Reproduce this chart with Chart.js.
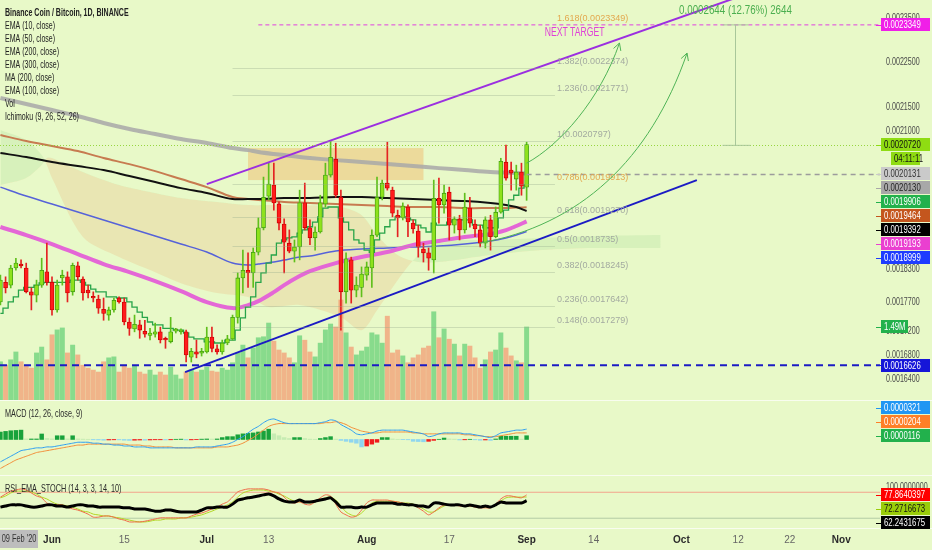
<!DOCTYPE html>
<html>
<head>
<meta charset="utf-8">
<title>Binance Coin / Bitcoin 1D</title>
<script src="https://cdn.jsdelivr.net/npm/chart.js@4.4.1/dist/chart.umd.min.js"></script>
<style>
  html, body { margin: 0; padding: 0; background: #e8f9c8; }
  #wrap { position: relative; width: 932px; height: 550px; overflow: hidden; background: #e8f9c8; }
  #wrap canvas { position: absolute; left: 0; }
</style>
</head>
<body>
<div id="wrap">
  <canvas id="priceChart" width="932" height="400" style="top:0"></canvas>
  <canvas id="macdChart" width="932" height="75" style="top:400px"></canvas>
  <canvas id="rsiChart" width="932" height="75" style="top:475px"></canvas>
</div>
<script>
// day 0 = 1 Jun 2020, one candle per day from 22 May to 1 Sep
const firstDay = -10;

const opens = [
  1771e-6,1806e-6,1801e-6,1832e-6,1839e-6,1832e-6,1789e-6,1783e-6,1801e-6,1825e-6,
  1806e-6,1757e-6,1814e-6,1816e-6,1789e-6,1836e-6,1812e-6,1792e-6,1781e-6,1776e-6,
  1758e-6,1748e-6,1757e-6,1778e-6,1771e-6,1736e-6,1724e-6,1731e-6,1720e-6,1713e-6,
  1715e-6,1719e-6,1708e-6,1702e-6,1720e-6,1719e-6,1719e-6,1676e-6,1685e-6,1683e-6,
  1685e-6,1710e-6,1690e-6,1685e-6,1700e-6,1707e-6,1744e-6,1814e-6,1828e-6,1823e-6,
  1861e-6,1907e-6,1968e-6,1990e-6,1953e-6,1914e-6,1878e-6,1863e-6,1871e-6,1955e-6,
  1907e-6,1888e-6,1899e-6,1953e-6,2010e-6,2042e-6,1966e-6,1789e-6,1847e-6,1792e-6,
  1797e-6,1819e-6,1832e-6,1893e-6,1966e-6,1994e-6,1980e-6,1931e-6,1926e-6,1947e-6,
  1916e-6,1901e-6,1867e-6,1860e-6,1847e-6,1964e-6,1951e-6,1976e-6,1912e-6,1924e-6,
  1903e-6,1945e-6,1914e-6,1903e-6,1878e-6,1922e-6,1890e-6,1937e-6,2036e-6,2020e-6,
  2002e-6,2016e-6,1986e-6
];
const highs = [
  1819e-6,1816e-6,1837e-6,1850e-6,1847e-6,1841e-6,1796e-6,1810e-6,1850e-6,1878e-6,
  1816e-6,1810e-6,1828e-6,1825e-6,1841e-6,1843e-6,1816e-6,1801e-6,1789e-6,1783e-6,
  1778e-6,1762e-6,1778e-6,1780e-6,1778e-6,1743e-6,1748e-6,1739e-6,1739e-6,1725e-6,
  1734e-6,1727e-6,1710e-6,1744e-6,1725e-6,1724e-6,1722e-6,1691e-6,1705e-6,1691e-6,
  1727e-6,1727e-6,1697e-6,1705e-6,1713e-6,1748e-6,1823e-6,1865e-6,1860e-6,1869e-6,
  1926e-6,2006e-6,2034e-6,2034e-6,1957e-6,1924e-6,1903e-6,1884e-6,1980e-6,1994e-6,
  1922e-6,1909e-6,1970e-6,2034e-6,2080e-6,2075e-6,1980e-6,1860e-6,1852e-6,1816e-6,
  1834e-6,1843e-6,1903e-6,2006e-6,2000e-6,2077e-6,1986e-6,1941e-6,1955e-6,1951e-6,
  1922e-6,1912e-6,1878e-6,1869e-6,2000e-6,2004e-6,1990e-6,1986e-6,1928e-6,1931e-6,
  1974e-6,1966e-6,1922e-6,1912e-6,1928e-6,1931e-6,1947e-6,2044e-6,2071e-6,2036e-6,
  2030e-6,2034e-6,2077e-6
];
const lows = [
  1766e-6,1787e-6,1796e-6,1828e-6,1832e-6,1787e-6,1757e-6,1771e-6,1797e-6,1801e-6,
  1748e-6,1753e-6,1801e-6,1771e-6,1783e-6,1810e-6,1774e-6,1778e-6,1771e-6,1751e-6,
  1739e-6,1739e-6,1753e-6,1769e-6,1731e-6,1713e-6,1719e-6,1708e-6,1710e-6,1705e-6,
  1710e-6,1700e-6,1691e-6,1700e-6,1717e-6,1715e-6,1668e-6,1668e-6,1675e-6,1678e-6,
  1683e-6,1685e-6,1681e-6,1681e-6,1697e-6,1705e-6,1734e-6,1787e-6,1797e-6,1797e-6,
  1856e-6,1903e-6,1961e-6,1941e-6,1903e-6,1823e-6,1860e-6,1843e-6,1847e-6,1903e-6,
  1875e-6,1865e-6,1897e-6,1947e-6,2006e-6,1966e-6,1722e-6,1769e-6,1769e-6,1780e-6,
  1780e-6,1810e-6,1797e-6,1890e-6,1961e-6,1980e-6,1928e-6,1890e-6,1922e-6,1890e-6,
  1897e-6,1852e-6,1843e-6,1828e-6,1823e-6,1916e-6,1935e-6,1884e-6,1897e-6,1884e-6,
  1897e-6,1908e-6,1890e-6,1871e-6,1869e-6,1865e-6,1888e-6,1935e-6,2000e-6,1980e-6,
  1980e-6,1970e-6,1960e-6
];
const closes = [
  1810e-6,1796e-6,1832e-6,1841e-6,1836e-6,1789e-6,1783e-6,1801e-6,1828e-6,1806e-6,
  1757e-6,1801e-6,1819e-6,1787e-6,1837e-6,1816e-6,1787e-6,1787e-6,1778e-6,1760e-6,
  1751e-6,1757e-6,1774e-6,1771e-6,1736e-6,1725e-6,1732e-6,1722e-6,1715e-6,1717e-6,
  1719e-6,1705e-6,1705e-6,1719e-6,1724e-6,1722e-6,1680e-6,1686e-6,1681e-6,1686e-6,
  1710e-6,1691e-6,1685e-6,1700e-6,1707e-6,1744e-6,1814e-6,1828e-6,1823e-6,1861e-6,
  1907e-6,1966e-6,1992e-6,1955e-6,1916e-6,1880e-6,1863e-6,1871e-6,1955e-6,1907e-6,
  1888e-6,1899e-6,1955e-6,2010e-6,2046e-6,1970e-6,1789e-6,1849e-6,1792e-6,1801e-6,
  1821e-6,1834e-6,1893e-6,1966e-6,1994e-6,1984e-6,1935e-6,1926e-6,1949e-6,1918e-6,
  1905e-6,1871e-6,1860e-6,1850e-6,1964e-6,1951e-6,1974e-6,1912e-6,1924e-6,1903e-6,
  1947e-6,1916e-6,1905e-6,1878e-6,1922e-6,1890e-6,1937e-6,2038e-6,2004e-6,2014e-6,
  2016e-6,1988e-6,2072e-6
];
// volume, millions
const volumes = [
  0.78,0.71,0.82,0.98,0.78,0.71,0.65,0.96,1.08,0.82,
  1.33,1.43,1.47,0.96,1.12,0.92,0.71,0.65,0.61,0.57,
  0.78,0.86,0.88,0.57,0.71,0.65,0.69,0.57,0.53,0.61,
  0.51,0.57,0.51,0.67,0.51,0.43,0.57,0.61,0.57,0.61,
  0.67,0.59,0.57,0.65,0.61,0.76,0.96,1.12,0.86,1.06,
  1.27,1.29,1.57,1.20,1.02,0.96,0.86,0.76,1.31,1.22,
  0.98,0.88,1.16,1.43,1.55,1.49,2.04,1.37,1.08,0.92,
  1.00,1.08,1.37,1.33,1.16,1.71,0.96,1.02,0.90,0.76,
  0.86,0.92,1.06,1.10,1.80,1.27,1.45,1.24,1.14,0.90,
  1.14,1.10,0.86,0.65,0.82,0.98,1.02,1.37,1.06,0.90,
  0.80,0.76,1.49
];
// ichimoku conversion line (step line)
const tenkan = [
  1751e-6,1760e-6,1771e-6,1780e-6,1792e-6,1797e-6,1797e-6,1801e-6,1805e-6,1806e-6,
  1806e-6,1806e-6,1806e-6,1806e-6,1810e-6,1810e-6,1806e-6,1801e-6,1794e-6,1789e-6,
  1789e-6,1780e-6,1780e-6,1778e-6,1778e-6,1771e-6,1762e-6,1753e-6,1744e-6,1736e-6,
  1731e-6,1731e-6,1725e-6,1725e-6,1722e-6,1722e-6,1717e-6,1710e-6,1707e-6,1707e-6,
  1702e-6,1702e-6,1700e-6,1700e-6,1705e-6,1705e-6,1722e-6,1743e-6,1762e-6,1780e-6,
  1806e-6,1823e-6,1841e-6,1856e-6,1878e-6,1884e-6,1888e-6,1890e-6,1897e-6,1903e-6,
  1909e-6,1918e-6,1928e-6,1945e-6,1947e-6,1947e-6,1926e-6,1918e-6,1903e-6,1884e-6,
  1878e-6,1865e-6,1861e-6,1884e-6,1897e-6,1909e-6,1922e-6,1928e-6,1928e-6,1926e-6,
  1922e-6,1912e-6,1907e-6,1899e-6,1916e-6,1912e-6,1912e-6,1918e-6,1922e-6,1922e-6,
  1922e-6,1922e-6,1912e-6,1912e-6,1907e-6,1907e-6,1907e-6,1926e-6,1941e-6,1961e-6,
  1970e-6,1984e-6,1990.6e-6
];

// moving averages, read every few days
const curveDays = [-10,-5,0,5,10,15,20,25,30,35,38,40,43,45,48,50,55,60,65,70,75,80,85,88,90,92];
const ma200 = [2170.6e-6,2157.6e-6,2144.7e-6,2132.0e-6,2117.1e-6,2104.5e-6,2094.0e-6,2083.6e-6,2075.3e-6,2064.9e-6,2060.7e-6,2056.7e-6,2052.6e-6,2050.5e-6,2046.4e-6,2044.4e-6,2040.2e-6,2036.2e-6,2032.1e-6,2028.1e-6,2024.0e-6,2020.0e-6,2016.0e-6,2015.0e-6,2014.0e-6,2013.1e-6];
const ema300 = [2091.9e-6,2079.4e-6,2069.1e-6,2058.8e-6,2044.4e-6,2032.1e-6,2018.0e-6,2002.0e-6,1986.0e-6,1966.4e-6,1962.5e-6,1960.5e-6,1958.6e-6,1956.6e-6,1955.6e-6,1954.7e-6,1952.7e-6,1950.8e-6,1948.8e-6,1946.9e-6,1946.9e-6,1944.9e-6,1944.9e-6,1944.9e-6,1945.9e-6,1946.4e-6];
const ema200 = [2054.7e-6,2046.4e-6,2036.2e-6,2028.1e-6,2020.0e-6,2008.0e-6,1996.0e-6,1984.0e-6,1974.3e-6,1962.5e-6,1962.5e-6,1962.5e-6,1963.5e-6,1964.5e-6,1964.5e-6,1964.5e-6,1966.4e-6,1966.4e-6,1964.5e-6,1962.5e-6,1960.5e-6,1958.6e-6,1954.7e-6,1950.8e-6,1946.9e-6,1939.2e-6];
const ema100 = [1986.0e-6,1968.4e-6,1952.7e-6,1937.2e-6,1921.8e-6,1906.6e-6,1891.4e-6,1876.4e-6,1861.4e-6,1841.1e-6,1837.4e-6,1839.3e-6,1842.9e-6,1846.6e-6,1852.2e-6,1854.0e-6,1863.3e-6,1867.0e-6,1868.9e-6,1870.8e-6,1872.6e-6,1876.4e-6,1882.0e-6,1887.6e-6,1893.3e-6,1899.9e-6];
const ema50 = [1908.5e-6,1893.3e-6,1876.4e-6,1857.7e-6,1839.3e-6,1824.6e-6,1808.2e-6,1790.3e-6,1770.8e-6,1760.2e-6,1765.5e-6,1772.5e-6,1788.5e-6,1801.0e-6,1817.3e-6,1826.4e-6,1841.1e-6,1852.2e-6,1861.4e-6,1874.5e-6,1882.0e-6,1889.5e-6,1895.1e-6,1902.7e-6,1910.4e-6,1919.3e-6];

// ichimoku cloud edges
const cloudDays = [-10,-5,-2,-1,0,6,13,19,25,32,38,42,48,56,60,63,67,71,75,85,95,105,118];
const spanA = [2102.4e-6,2081.4e-6,2050.5e-6,2030.1e-6,2004.0e-6,1889.5e-6,1852.2e-6,1828.2e-6,1804.6e-6,1786.7e-6,1779.6e-6,1762.0e-6,1765.5e-6,1744.4e-6,1721.9e-6,1756.6e-6,1810.0e-6,1855.9e-6,1880.1e-6,1883.9e-6,1887.6e-6,1891.4e-6,1893.3e-6];
const spanB = [1990.0e-6,2004.0e-6,2030.1e-6,2044.4e-6,2044.4e-6,2016.0e-6,1990.0e-6,1976.3e-6,1964.5e-6,1956.6e-6,1950.8e-6,1950.8e-6,1950.8e-6,1946.9e-6,1931.4e-6,1893.3e-6,1855.9e-6,1842.9e-6,1842.9e-6,1855.9e-6,1865.1e-6,1868.9e-6,1868.9e-6];

// MACD (12, 26, close, 9)
const macdLine = [
  -69.6e-6,-60.9e-6,-52.2e-6,-43.5e-6,-34.8e-6,-31.9e-6,-29.0e-6,-26.1e-6,-26.1e-6,-23.2e-6,
  -23.2e-6,-20.3e-6,-17.4e-6,-14.5e-6,-11.6e-6,-8.7e-6,-8.7e-6,-8.7e-6,-11.6e-6,-11.6e-6,
  -14.5e-6,-14.5e-6,-17.4e-6,-17.4e-6,-20.3e-6,-20.3e-6,-23.2e-6,-23.2e-6,-23.2e-6,-26.1e-6,
  -26.1e-6,-26.1e-6,-26.1e-6,-26.1e-6,-26.1e-6,-26.1e-6,-26.1e-6,-26.1e-6,-23.2e-6,-23.2e-6,
  -23.2e-6,-23.2e-6,-20.3e-6,-17.4e-6,-14.5e-6,-8.7e-6,0,8.7e-6,20.3e-6,31.9e-6,
  40.6e-6,52.2e-6,60.9e-6,63.8e-6,58.0e-6,52.2e-6,49.3e-6,49.3e-6,49.3e-6,49.3e-6,
  49.3e-6,49.3e-6,52.2e-6,55.1e-6,60.9e-6,58.0e-6,46.4e-6,37.7e-6,29.0e-6,17.4e-6,
  14.5e-6,17.4e-6,20.3e-6,26.1e-6,29.0e-6,29.0e-6,29.0e-6,29.0e-6,29.0e-6,26.1e-6,
  23.2e-6,20.3e-6,17.4e-6,8.7e-6,11.6e-6,17.4e-6,20.3e-6,20.3e-6,20.3e-6,20.3e-6,
  17.4e-6,17.4e-6,14.5e-6,11.6e-6,8.7e-6,5.8e-6,11.6e-6,20.3e-6,23.2e-6,26.1e-6,
  29.0e-6,29.0e-6,32.1e-6
];
const signalLine = [
  -90.0e-6,-81.2e-6,-72.5e-6,-63.8e-6,-58.0e-6,-52.2e-6,-46.4e-6,-40.6e-6,-37.7e-6,-34.8e-6,
  -31.9e-6,-29.0e-6,-26.1e-6,-23.2e-6,-20.3e-6,-17.4e-6,-17.4e-6,-14.5e-6,-14.5e-6,-14.5e-6,
  -14.5e-6,-14.5e-6,-14.5e-6,-14.5e-6,-14.5e-6,-17.4e-6,-17.4e-6,-17.4e-6,-20.3e-6,-20.3e-6,
  -23.2e-6,-23.2e-6,-23.2e-6,-23.2e-6,-26.1e-6,-26.1e-6,-26.1e-6,-26.1e-6,-26.1e-6,-26.1e-6,
  -26.1e-6,-26.1e-6,-23.2e-6,-23.2e-6,-23.2e-6,-20.3e-6,-17.4e-6,-11.6e-6,-2.9e-6,5.8e-6,
  17.4e-6,29.0e-6,40.6e-6,46.4e-6,49.3e-6,49.3e-6,49.3e-6,49.3e-6,49.3e-6,49.3e-6,
  49.3e-6,49.3e-6,49.3e-6,52.2e-6,52.2e-6,55.1e-6,52.2e-6,46.4e-6,37.7e-6,31.9e-6,
  26.1e-6,23.2e-6,20.3e-6,20.3e-6,23.2e-6,23.2e-6,23.2e-6,23.2e-6,23.2e-6,23.2e-6,
  20.3e-6,20.3e-6,17.4e-6,17.4e-6,17.4e-6,17.4e-6,17.4e-6,17.4e-6,17.4e-6,17.4e-6,
  14.5e-6,14.5e-6,11.6e-6,11.6e-6,8.7e-6,8.7e-6,8.7e-6,11.6e-6,14.5e-6,17.4e-6,
  20.3e-6,20.3e-6,20.4e-6
];
const macdHist = [
  23e-6,25e-6,27e-6,28e-6,29e-6,1.5e-6,1.5e-6,1.5e-6,17e-6,3e-6,
  1.5e-6,11.5e-6,11.5e-6,1.5e-6,11.5e-6,1.5e-6,1e-6,0.6e-6,-1e-6,-1.5e-6,
  -2.3e-6,-1.5e-6,-1e-6,-1.2e-6,-2.3e-6,-3e-6,-2.3e-6,-1.7e-6,-2.3e-6,-1.5e-6,
  -1e-6,-1e-6,-1.5e-6,-1e-6,0.6e-6,1e-6,-1.5e-6,-1.2e-6,-0.6e-6,1e-6,
  1.5e-6,1.2e-6,1.5e-6,5.8e-6,8.7e-6,8.7e-6,14.5e-6,17.4e-6,18.9e-6,20.3e-6,
  23.2e-6,26.1e-6,31.9e-6,17.4e-6,11.6e-6,5.8e-6,2.9e-6,5.8e-6,5.8e-6,2.9e-6,
  1e-6,0.6e-6,2.9e-6,5.8e-6,8.7e-6,1e-6,-2.9e-6,-5.8e-6,-8.7e-6,-11.6e-6,
  -23.2e-6,-20.3e-6,-14.5e-6,-8.7e-6,5.8e-6,5.8e-6,1.5e-6,0.6e-6,-0.6e-6,-1e-6,
  -5.8e-6,-6.5e-6,-7.2e-6,-5.8e-6,-2.9e-6,0.6e-6,4.4e-6,1.5e-6,1e-6,-1.5e-6,
  -1e-6,0.6e-6,-1e-6,-2.3e-6,-1.5e-6,-2.9e-6,1.5e-6,10e-6,10e-6,10e-6,
  10e-6,1e-6,11.6e-6
];

// RSI_EMA_STOCH (14, 3, 3, 14, 10)
const rsiMain = [
  45,48,51,51,51,48,45,45,48,51, 51,48,48,45,48,51,51,48,48,45,
  45,45,45,45,43,43,40,40,40,37, 34,34,37,37,34,32,32,32,32,37,
  43,43,45,45,45,53,64,67,70,72, 75,78,80,75,67,61,59,59,64,59,
  59,61,64,67,70,59,45,45,45,43, 45,45,51,56,56,56,56,53,53,51,
  51,48,48,45,56,56,53,51,51,51, 48,51,48,45,48,45,51,59,56,56,
  56,56,62.2431675
];
const rsiFast = [
  72,80,88,91,94,91,83,75,70,56, 51,51,51,45,40,37,32,26,18,18,
  21,21,18,13,10,5,5,5,7,10, 13,16,16,16,16,16,16,21,26,29,
  34,40,45,53,59,72,86,91,94,94, 94,94,91,86,83,72,59,56,59,53,
  51,59,70,78,75,53,32,24,18,21, 37,56,64,64,64,64,61,59,56,53,
  51,43,34,24,32,43,51,51,51,48, 48,48,45,43,43,43,53,67,75,75,
  72,70,77.8640397
];
const rsiSlow = [
  70,75,83,88,88,88,86,80,72,67, 59,53,51,48,45,40,34,32,26,24,
  21,21,18,16,13,10,7,5,5,7, 10,10,13,13,13,16,16,18,21,24,
  29,34,40,45,51,59,72,83,88,91, 91,91,88,86,80,75,67,61,59,59,
  56,59,64,70,72,64,48,32,24,21, 29,43,56,61,61,61,61,59,56,56,
  53,48,40,32,32,40,48,51,51,51, 48,48,48,45,45,45,51,61,70,72,
  72,72,72.2716673
];
const rsiBands = [85, 15];

// axes
const priceTicks = [1640e-6, 1680e-6, 1720e-6, 1770e-6, 1830e-6, 2100e-6, 2150e-6, 2250e-6, 2350e-6];
const rsiTicks = [100];
const tickDays = [0, 14, 30, 42, 61, 77, 92, 105, 122, 133, 143, 153];
const tickLabels = ['Jun', '15', 'Jul', '13', 'Aug', '17', 'Sep', '14', 'Oct', '12', '22', 'Nov'];
const monthNames = ['Jun', 'Jul', 'Aug', 'Sep', 'Oct', 'Nov'];

// drawings
const fibLevels = [1.618, 1.382, 1.236, 1, 0.786, 0.618, 0.5, 0.382, 0.236, 0.148];
const fibPrices = [2334.9e-6, 2237.4e-6, 2177.1e-6, 2079.7e-6, 1991.3e-6, 1927.0e-6, 1873.5e-6, 1824.5e-6, 1764.2e-6, 1727.9e-6];
const fibDays = [35, 97.5];
const zoneDays = [38, 72];
const zonePrices = [2000e-6, 2064.9e-6];
const channelDays = [30, 135];
const channelPrices = [1992e-6, 2409.5e-6];
const supportDays = [25.8, 125];
const supportPrices = [1651.3e-6, 2000e-6];
const floorPrice = 1662.6e-6;
const targetPrice = 2334.9e-6;
const lastPrice = 2072e-6;
const measureDay = 132.4;
const measurePrices = [2070.5e-6, 2334.9e-6];
const measureText = '0.0002644 (12.76%) 2644';
const arcs = [
  { days: [92, 98.4, 106.2, 110], prices: [2034e-6, 2071e-6, 2166e-6, 2293e-6] },
  { days: [82.9, 102.3, 115.9, 123.1], prices: [1878e-6, 1912e-6, 2040e-6, 2270e-6] }
];
const legendLines = ['Binance Coin / Bitcoin, 1D, BINANCE', 'EMA (10, close)', 'EMA (50, close)',
  'EMA (200, close)', 'EMA (300, close)', 'MA (200, close)', 'EMA (100, close)', 'Vol',
  'Ichimoku (9, 26, 52, 26)'];

const X_MIN = -10.08, X_MAX = 160.5;
const FAMILY = '"Liberation Sans",Arial,sans-serif';
const font = (size, weight) => (weight ? weight + ' ' : '') + size + 'px ' + FAMILY;

const days = closes.map((_, i) => firstDay + i);
const xy = (xs, ys) => xs.map((x, i) => ({ x, y: ys[i] }));
const rising = closes.map((c, i) => c >= opens[i]);

function curve(xs, ys, color, width, order, extra) {
  return Object.assign({
    type: 'line', data: xy(xs, ys), borderColor: color, borderWidth: width,
    pointRadius: 0, tension: 0.35, fill: false, order
  }, extra || {});
}

function xScale(show) {
  return {
    type: 'linear', min: X_MIN, max: X_MAX, offset: false, display: show,
    grid: { display: false, drawTicks: false }, border: { display: false },
    afterBuildTicks: s => { s.ticks = tickDays.map(v => ({ value: v })); },
    afterFit: s => {
      if (!s.options.display) return;
      s.height = 22; s.paddingLeft = 0; s.paddingRight = 0;
    },
    ticks: {
      autoSkip: false, maxRotation: 0, minRotation: 0, padding: 6,
      callback: v => tickLabels[tickDays.indexOf(v)],
      color: c => monthNames.includes(c.tick && c.tick.label) ? '#2b2b2b' : '#666',
      font: c => ({ family: FAMILY, size: 10, weight: monthNames.includes(c.tick && c.tick.label) ? 'bold' : 'normal' })
    }
  };
}

// the price scales keep their ticks; labels are written condensed by axisText()
function rightAxis(extra) {
  return Object.assign({
    position: 'right', grid: { display: false }, border: { display: false },
    afterFit: s => { s.width = 52; s.paddingTop = 0; s.paddingBottom = 0; },
    ticks: { display: false }
  }, extra);
}

function baseOptions(scales) {
  return {
    responsive: false, animation: false, events: [],
    layout: { padding: 0 },
    plugins: { legend: { display: false }, tooltip: { enabled: false } },
    scales
  };
}

function drawText(ctx, s, x, y, f, color, align, baseline, sx) {
  ctx.save();
  ctx.translate(x, y);
  ctx.scale(sx || 1, 1);
  ctx.font = f; ctx.fillStyle = color;
  ctx.textAlign = align || 'left'; ctx.textBaseline = baseline || 'middle';
  ctx.fillText(s, 0, 0);
  ctx.restore();
}

function hLine(ctx, x0, x1, y, color, width, dash) {
  ctx.beginPath();
  ctx.setLineDash(dash || []);
  ctx.strokeStyle = color; ctx.lineWidth = width;
  ctx.moveTo(x0, y); ctx.lineTo(x1, y);
  ctx.stroke();
  ctx.setLineDash([]);
}

function axisText(chart, id) {
  const sc = chart.scales[id];
  sc.ticks.forEach(t => drawText(chart.ctx, t.value.toFixed(7), chart.chartArea.right + 6,
    sc.getPixelForValue(t.value), font(10.5), '#4a4a4a', 'left', 'middle', 0.68));
}

// coloured value tags on the price scale
function drawTags(chart, groups) {
  const ctx = chart.ctx, x0 = chart.chartArea.right;
  groups.forEach(g => {
    const sc = chart.scales[g.scale];
    const tags = g.tags.map(t => Object.assign({}, t, { y: sc.getPixelForValue(t.value) + (t.shift || 0) }));
    tags.sort((a, b) => g.up ? b.y - a.y : a.y - b.y);
    for (let i = 1; i < tags.length; i++) {
      if (g.up) tags[i].y = Math.min(tags[i].y, tags[i - 1].y - 14);
      else tags[i].y = Math.max(tags[i].y, tags[i - 1].y + 14);
    }
    tags.forEach(t => {
      const x = x0 + 1 + (t.inset || 0), w = t.width || 49, top = Math.round(t.y - 6.5);
      ctx.fillStyle = t.bg;
      ctx.fillRect(x, top, w, 13);
      if (!t.inset) ctx.fillRect(x0 - 4, Math.round(t.y), 5, 1);
      drawText(ctx, t.text, x + 3, t.y + 0.5, font(10.5), t.fg, 'left', 'middle', 0.74);
    });
  });
}
const tag = (value, bg, fg, extra) => Object.assign({ value, text: value.toFixed(7), bg, fg }, extra || {});

const priceDecor = {
  id: 'priceDecor',
  beforeDatasetsDraw(chart) {
    const { ctx, scales: { x, y } } = chart;
    const x0 = x.getPixelForValue(zoneDays[0]), x1 = x.getPixelForValue(zoneDays[1]);
    const y0 = y.getPixelForValue(zonePrices[1]), y1 = y.getPixelForValue(zonePrices[0]);
    ctx.save();
    ctx.fillStyle = 'rgba(240,188,110,0.5)';
    ctx.fillRect(x0, y0, x1 - x0, y1 - y0);
    ctx.restore();
  },
  afterDatasetsDraw(chart) {
    const { ctx, chartArea: a, scales: { x, y } } = chart;
    ctx.save();
    ctx.beginPath();
    ctx.rect(a.left, a.top, a.right - a.left, a.bottom - a.top);
    ctx.clip();

    // last price and MA price lines
    hLine(ctx, a.left, a.right, Math.round(y.getPixelForValue(lastPrice)) + 0.5, 'rgba(130,205,30,0.8)', 1, [1, 2]);
    hLine(ctx, x.getPixelForValue(92), a.right, Math.round(y.getPixelForValue(ma200[ma200.length - 1])) + 0.5, '#9c9c9c', 1.5, [5, 4]);

    // fibonacci levels
    const fx0 = x.getPixelForValue(fibDays[0]), fx1 = x.getPixelForValue(fibDays[1]);
    fibLevels.forEach((lv, i) => {
      const py = Math.round(y.getPixelForValue(fibPrices[i])) + 0.5;
      if (lv !== 1.618) hLine(ctx, fx0, fx1, py, 'rgba(150,170,140,0.35)', 1);
      const warm = lv === 1.618 || lv === 0.786;
      drawText(ctx, lv + '(' + fibPrices[i].toFixed(7) + ')', fx1 + 2, py - 2, font(9.5),
        warm ? '#e3a84e' : '#a3aaa0', 'left', 'bottom', 0.95);
    });
    drawText(ctx, 'NEXT TARGET', x.getPixelForValue(95.5), y.getPixelForValue(2316e-6), font(12), '#e040d8', 'left', 'middle', 0.72);

    // projection arrows
    ctx.strokeStyle = '#4fb356'; ctx.lineWidth = 1;
    arcs.forEach(arc => {
      const p = arc.days.map((d, i) => [x.getPixelForValue(d), y.getPixelForValue(arc.prices[i])]);
      ctx.beginPath();
      ctx.moveTo(p[0][0], p[0][1]);
      ctx.bezierCurveTo(p[1][0], p[1][1], p[2][0], p[2][1], p[3][0], p[3][1]);
      ctx.stroke();
      const ang = Math.atan2(p[3][1] - p[2][1], p[3][0] - p[2][0]);
      ctx.beginPath();
      [-0.5, 0.5].forEach(da => {
        ctx.moveTo(p[3][0], p[3][1]);
        ctx.lineTo(p[3][0] - 8 * Math.cos(ang + da), p[3][1] - 8 * Math.sin(ang + da));
      });
      ctx.stroke();
    });

    // price range measure
    const mx = Math.round(x.getPixelForValue(measureDay)) + 0.5;
    const mTop = y.getPixelForValue(measurePrices[1]), mBot = y.getPixelForValue(measurePrices[0]);
    ctx.strokeStyle = '#a9c79a'; ctx.lineWidth = 1;
    ctx.beginPath();
    ctx.moveTo(mx, mTop); ctx.lineTo(mx, mBot);
    ctx.moveTo(mx - 13, mTop); ctx.lineTo(mx + 13, mTop);
    ctx.moveTo(mx - 13, mBot); ctx.lineTo(mx + 15, mBot);
    ctx.stroke();
    drawText(ctx, measureText, mx, mTop - 14, font(13), '#4caf50', 'center', 'middle', 0.75);
    ctx.restore();
  },
  afterDraw(chart) {
    const ctx = chart.ctx;
    legendLines.forEach((s, i) => drawText(ctx, s, 5, 12.7 + 13 * i, font(11, i === 0 ? 'bold' : ''), '#222', 'left', 'middle', 0.64));
    axisText(chart, 'y');
    drawTags(chart, [
      { scale: 'y', up: false, tags: [
        tag(targetPrice, '#f01fe8', '#fff'),
        tag(lastPrice, '#8fdc12', '#111'),
        { value: lastPrice, shift: 13.5, text: '04:11:11', bg: '#8fdc12', fg: '#111', inset: 10, width: 29 },
        tag(ma200[ma200.length - 1], '#cacaca', '#333'),
        tag(2013.0e-6, '#a8a8a8', '#222'),
        tag(tenkan[tenkan.length - 1], '#22b14c', '#fff'),
        tag(ema300[ema300.length - 1], '#c4561e', '#fff'),
        tag(ema200[ema200.length - 1], '#000', '#fff'),
        tag(ema50[ema50.length - 1], '#ea3fd0', '#fff'),
        tag(ema100[ema100.length - 1], '#1e3cff', '#fff'),
        tag(floorPrice, '#1616d8', '#fff')
      ] },
      { scale: 'yVol', up: false, tags: [
        { value: volumes[volumes.length - 1], text: volumes[volumes.length - 1].toFixed(2) + 'M', bg: '#22b14c', fg: '#fff', width: 27 }
      ] }
    ]);
  }
};

new Chart(document.getElementById('priceChart'), {
  type: 'bar',
  data: {
    datasets: [
      curve(cloudDays, spanA, 'transparent', 0, 40, { tension: 0.3,
        fill: { target: '+1', above: 'rgba(110,200,110,0.14)', below: 'rgba(236,178,120,0.26)' } }),
      curve(cloudDays, spanB, 'transparent', 0, 41, { tension: 0.3 }),
      { type: 'bar', yAxisID: 'yVol', data: xy(days, volumes), grouped: false, barThickness: 4.3, order: 30,
        backgroundColor: rising.map(u => u ? 'rgba(40,190,80,0.5)' : 'rgba(250,95,60,0.45)') },
      curve(curveDays, ma200, 'rgba(168,168,168,0.85)', 4, 12),
      curve(curveDays, ema300, '#c77b50', 2, 11),
      curve(curveDays, ema200, '#111', 2, 10),
      curve(curveDays, ema100, '#5662d8', 1.5, 9),
      curve(curveDays, ema50, '#e467d6', 4, 8),
      curve(days, tenkan, '#27a449', 1.3, 7, { stepped: 'middle', tension: 0 }),
      { type: 'bar', data: days.map((d, i) => ({ x: d, y: [lows[i], highs[i]] })), grouped: false,
        barThickness: 1, order: 3, backgroundColor: rising.map(u => u ? '#5fbf1c' : '#e42222') },
      { type: 'bar', data: days.map((d, i) => ({ x: d, y: [opens[i], closes[i]] })), grouped: false,
        barThickness: 4, minBarLength: 1, order: 2, borderSkipped: false, borderWidth: 0.8,
        backgroundColor: rising.map(u => u ? '#8ee21c' : '#ff1c1c'),
        borderColor: rising.map(u => u ? '#3d9b12' : '#c80000') },
      curve(channelDays, channelPrices, '#9b2fe0', 2, 1, { tension: 0 }),
      curve(supportDays, supportPrices, '#1b1bc4', 2, 1, { tension: 0 }),
      curve([X_MIN, X_MAX], [floorPrice, floorPrice], '#1b1bc4', 2, 1, { tension: 0, borderDash: [7, 5] }),
      curve([40, X_MAX], [targetPrice, targetPrice], '#e040e0', 1, 1, { tension: 0, borderDash: [4, 3] })
    ]
  },
  options: baseOptions({
    x: xScale(false),
    y: rightAxis({
      type: 'logarithmic', min: 1606e-6, max: 2393.6e-6,
      afterBuildTicks: s => { s.ticks = priceTicks.map(v => ({ value: v })); }
    }),
    yVol: { type: 'linear', display: false, min: 0, max: 8.16 }
  }),
  plugins: [priceDecor]
});

// MACD pane
const histColors = macdHist.map((v, i) => {
  const prev = i ? macdHist[i - 1] : v;
  if (v >= 0) return v >= prev ? '#18a23b' : 'rgba(120,205,130,0.3)';
  return v < prev ? '#8fd6ef' : '#f01c1c';
});
const paneDecor = (title, extra) => ({
  id: 'paneDecor',
  afterDraw(chart) {
    const ctx = chart.ctx;
    hLine(ctx, 0, chart.width, 0.5, 'rgba(255,255,255,0.7)', 1);
    drawText(ctx, title, 5, 14, font(11), '#2a2a2a', 'left', 'middle', 0.66);
    if (extra) extra(chart, ctx);
  }
});

new Chart(document.getElementById('macdChart'), {
  type: 'bar',
  data: {
    datasets: [
      { type: 'bar', data: xy(days, macdHist), grouped: false, barThickness: 3.8, order: 3, backgroundColor: histColors },
      curve(days, macdLine, '#2a9cf2', 1, 1, { tension: 0.2 }),
      curve(days, signalLine, '#f28b36', 1, 2, { tension: 0.2 })
    ]
  },
  options: baseOptions({
    x: xScale(false),
    y: rightAxis({ type: 'linear', min: -110.4e-6, max: 122.6e-6 })
  }),
  plugins: [paneDecor('MACD (12, 26, close, 9)', chart => {
    drawTags(chart, [{ scale: 'y', up: true, tags: [
      tag(macdLine[macdLine.length - 1], '#2196f3', '#fff'),
      tag(signalLine[signalLine.length - 1], '#ff7f27', '#fff'),
      tag(macdHist[macdHist.length - 1], '#22b14c', '#fff')
    ] }]);
  })]
});

// RSI pane with the time axis
new Chart(document.getElementById('rsiChart'), {
  type: 'line',
  data: {
    datasets: [
      curve([X_MIN, X_MAX], [rsiBands[0], rsiBands[0]], '#f2a48c', 1, 5, { tension: 0 }),
      curve([X_MIN, X_MAX], [rsiBands[1], rsiBands[1]], '#b3cba5', 1, 5, { tension: 0 }),
      curve(days, rsiSlow, '#b2d626', 1, 3, { tension: 0.25 }),
      curve(days, rsiFast, '#ef6a48', 1, 2, { tension: 0.25 }),
      curve(days, rsiMain, '#000', 3, 1, { tension: 0.2 })
    ]
  },
  options: baseOptions({
    x: xScale(true),
    y: rightAxis({
      type: 'linear', min: -11.3, max: 131.5,
      afterBuildTicks: s => { s.ticks = rsiTicks.map(v => ({ value: v })); }
    })
  }),
  plugins: [paneDecor('RSI_EMA_STOCH (14, 3, 3, 14, 10)', (chart, ctx) => {
    hLine(ctx, 0, chart.width, chart.chartArea.bottom + 0.5, 'rgba(255,255,255,0.7)', 1);
    ctx.fillStyle = '#bdbdbd';
    ctx.fillRect(0, chart.chartArea.bottom + 2, 38, 18);
    drawText(ctx, "09 Feb '20", 19, chart.chartArea.bottom + 11, font(10), '#333', 'center', 'middle', 0.74);
    axisText(chart, 'y');
    drawTags(chart, [{ scale: 'y', up: false, tags: [
      tag(rsiFast[rsiFast.length - 1], '#ff0000', '#fff'),
      tag(rsiSlow[rsiSlow.length - 1], '#9acd0a', '#111'),
      tag(rsiMain[rsiMain.length - 1], '#000', '#fff')
    ] }]);
  })]
});
</script>
</body>
</html>
